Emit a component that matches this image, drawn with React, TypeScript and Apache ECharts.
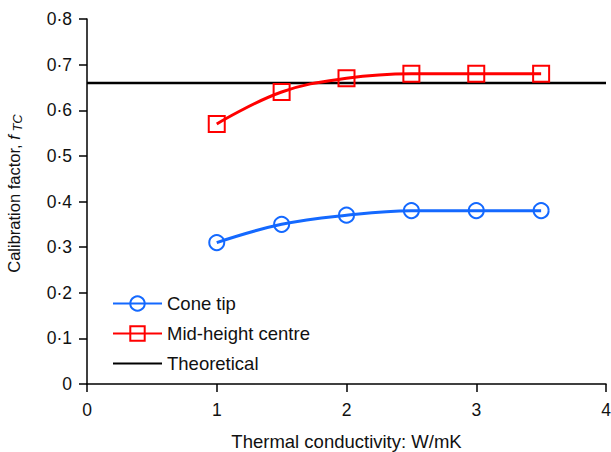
import React, { useEffect, useRef } from "react";
import * as echarts from "echarts";

const xValues = [1, 1.5, 2, 2.5, 3, 3.5];
const coneTip = [0.31, 0.35, 0.37, 0.38, 0.38, 0.38];
const midHeight = [0.57, 0.64, 0.67, 0.68, 0.68, 0.68];
const theoreticalX = [0, 4];
const theoreticalY = [0.66, 0.66];
const yTickLabels = ["0", "0·1", "0·2", "0·3", "0·4", "0·5", "0·6", "0·7", "0·8"];
const xTickLabels = ["0", "1", "2", "3", "4"];

const BLUE = "#1469ff";
const RED = "#ff0000";
const FONT = "'Liberation Sans', Arial, sans-serif";

export default function App() {
  const ref = useRef<HTMLDivElement>(null);
  useEffect(() => {
    if (!ref.current) return;
    const chart = echarts.init(ref.current, undefined, { renderer: "svg" });
    chart.setOption({
      animation: false,
      textStyle: { fontFamily: FONT },
      grid: { left: 87, right: 5, top: 19, bottom: 68, containLabel: false, outerBoundsMode: "none" },
      legend: {
        orient: "vertical",
        left: 107,
        top: 289,
        itemWidth: 49,
        itemHeight: 18,
        itemGap: 11,
        textStyle: { fontSize: 18.5, color: "#111", fontFamily: FONT },
        data: ["Cone tip", "Mid-height centre", "Theoretical"],
      },
      xAxis: {
        type: "value",
        min: 0,
        max: 4,
        interval: 1,
        name: "Thermal conductivity: W/mK",
        nameLocation: "middle",
        nameGap: 48,
        nameTextStyle: { fontSize: 18.5, color: "#111", fontFamily: FONT },
        axisLine: { show: true, onZero: false, lineStyle: { color: "#000", width: 1.5 } },
        axisTick: { show: true, inside: false, length: 8, lineStyle: { color: "#000", width: 1.5 } },
        axisLabel: {
          fontSize: 17.5,
          color: "#111",
          margin: 17,
          formatter: (v: number) => xTickLabels[Math.round(v)] ?? String(v),
        },
        splitLine: { show: false },
      },
      yAxis: {
        type: "value",
        min: 0,
        max: 0.8,
        interval: 0.1,
        name: "Calibration factor, {i|f}{sub| TC}",
        nameLocation: "middle",
        nameGap: 63,
        nameRotate: 90,
        nameTextStyle: {
          fontSize: 16.5,
          color: "#111",
          fontFamily: FONT,
          padding: [0, 0, 0, 16],
          rich: {
            i: { fontSize: 16.5, fontStyle: "italic", color: "#111", fontFamily: FONT },
            sub: { fontSize: 13, fontStyle: "italic", color: "#111", fontFamily: FONT, padding: [8, 0, 0, 0] },
          },
        },
        axisLine: { show: true, lineStyle: { color: "#000", width: 1.5 } },
        axisTick: { show: true, inside: false, length: 8, lineStyle: { color: "#000", width: 1.5 } },
        axisLabel: {
          fontSize: 17.5,
          color: "#111",
          margin: 15,
          formatter: (v: number) => yTickLabels[Math.round(v * 10)] ?? String(v),
        },
        splitLine: { show: false },
      },
      series: [
        {
          name: "Cone tip",
          type: "line",
          smooth: 0.4,
          data: xValues.map((x, i) => [x, coneTip[i]]),
          symbol: "circle",
          symbolSize: 15,
          color: BLUE,
          lineStyle: { color: BLUE, width: 3 },
          itemStyle: { color: "rgba(255,255,255,0)", borderColor: BLUE, borderWidth: 2 },
          z: 3,
        },
        {
          name: "Mid-height centre",
          type: "line",
          smooth: 0.4,
          data: xValues.map((x, i) => [x, midHeight[i]]),
          symbol: "rect",
          symbolSize: 16,
          color: RED,
          lineStyle: { color: RED, width: 3 },
          itemStyle: { color: "rgba(255,255,255,0)", borderColor: RED, borderWidth: 2 },
          z: 3,
        },
        {
          name: "Theoretical",
          type: "line",
          data: theoreticalX.map((x, i) => [x, theoreticalY[i]]),
          showSymbol: false,
          symbol: "circle",
          color: "#000",
          lineStyle: { color: "#000", width: 2.5 },
          itemStyle: { color: "rgba(0,0,0,0)", borderColor: "rgba(0,0,0,0)", borderWidth: 0 },
          z: 2,
        },
      ],
    });
    return () => chart.dispose();
  }, []);
  return <div ref={ref} style={{ width: 611, height: 452, position: "absolute", left: 0, top: 0 }} />;
}
